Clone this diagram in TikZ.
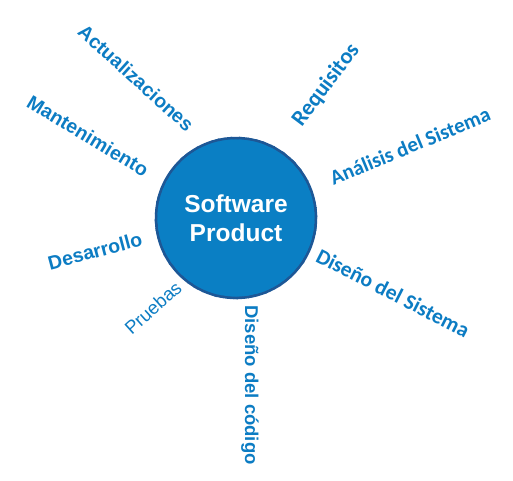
\documentclass[tikz,border=0pt]{standalone}
\usepackage{fontspec}
\setmainfont{Liberation Sans}
\newfontfamily\calibri{Carlito}
\usetikzlibrary{positioning}
\usetikzlibrary{decorations.pathmorphing}

\definecolor{prodblue}{HTML}{0A7FC4}
\definecolor{rimblue}{HTML}{1D5796}
\definecolor{labelblue}{HTML}{0C7CC3}

\begin{document}
\begin{tikzpicture}[x=1pt,y=1pt,
    phase/.style={text=labelblue,font=\bfseries\fontsize{19.5}{22}\selectfont,inner sep=0pt},
    phasec/.style={text=labelblue,font=\calibri\bfseries\fontsize{21}{23}\selectfont,inner sep=0pt}]
      % Define the canvas
      \useasboundingbox (0,0) rectangle (513,-480);

      % Draw the product circle
      \node[circle,fill=prodblue,draw=rimblue,line width=2.5pt,minimum size=160pt,
            text=white,align=center,font=\bfseries\fontsize{24.5}{29}\selectfont]
            (product) at (236,-218) {Software\\Product};
      \draw[rimblue,line width=1.5pt,decorate,
            decoration={random steps,segment length=2pt,amplitude=0.7pt}]
            (product.center) circle (80pt);

      % Label the phases
      \node[phase,rotate=-42] (updates) at (136,-78) {Actualizaciones};
      \node[phase,rotate=-31] (maintenance) at (88,-136) {Mantenimiento};
      \node[phasec,font=\calibri\bfseries\fontsize{22.5}{24}\selectfont,rotate=53] (requirements) at (326,-85) {Requisitos};
      \node[phasec,rotate=22.5] (analysis) at (410,-146) {Análisis del Sistema};
      \node[phase,rotate=15] (development) at (95,-251) {Desarrollo};
      \node[phase,font=\fontsize{18.5}{20}\selectfont,rotate=42] (testing) at (153,-308) {Pruebas};
      \node[phasec,font=\calibri\bfseries\fontsize{21.5}{23}\selectfont,rotate=-27] (systemdesign) at (393,-293) {Diseño del Sistema};
      \node[phase,font=\bfseries\fontsize{18.5}{20}\selectfont,rotate=-90] (codedesign) at (250,-385) {Diseño del código};
    \end{tikzpicture}
\end{document}
